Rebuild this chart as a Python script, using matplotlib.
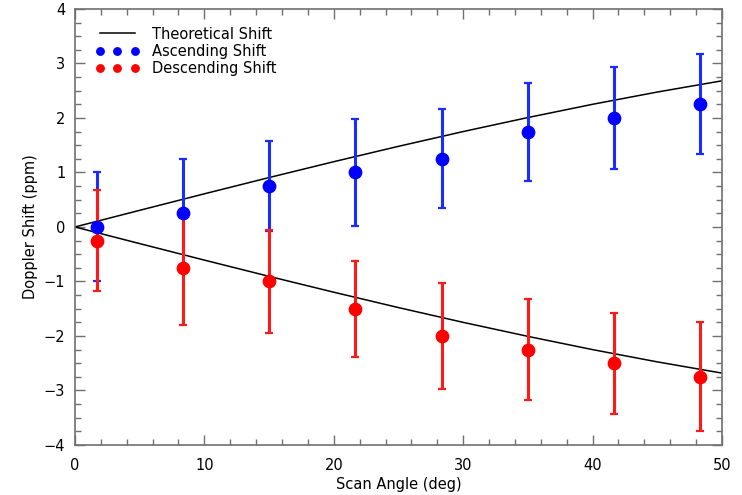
import matplotlib
matplotlib.use('Agg')
import matplotlib.pyplot as plt
from matplotlib.ticker import MultipleLocator

# scan angles of the measurements (deg)
scan_angle = [1.67, 8.33, 15.0, 21.67, 28.33, 35.0, 41.67, 48.33]

# ascending pass shift and error (ppm)
asc_shift = [0.0, 0.25, 0.75, 1.0, 1.25, 1.75, 2.0, 2.25]
asc_err = [1.0, 1.0, 0.83, 0.98, 0.91, 0.90, 0.94, 0.92]

# descending pass shift and error (ppm)
desc_shift = [-0.25, -0.75, -1.0, -1.5, -2.0, -2.25, -2.5, -2.75]
desc_err = [0.92, 1.04, 0.94, 0.88, 0.97, 0.92, 0.93, 1.0]

# theoretical curve
theo_angle = [0, 5, 10, 15, 20, 25, 30, 35, 40, 45, 50]
theo_shift = [0.0, 0.305, 0.608, 0.906, 1.197, 1.479, 1.75, 2.007, 2.25, 2.475, 2.681]

fig = plt.figure(figsize=(7.42, 4.95), dpi=100)
ax = fig.add_axes([0.101, 0.101, 0.872, 0.881])

ax.plot(theo_angle, theo_shift, color='black', lw=1.1, label='Theoretical Shift')
ax.plot(theo_angle, [-v for v in theo_shift], color='black', lw=1.1)

ax.errorbar(scan_angle, asc_shift, yerr=asc_err, fmt='o', color='#0000ff',
            ecolor='#1a2cff', ms=8.9, elinewidth=2.2, capsize=3, capthick=1.6,
            label='Ascending Shift')
ax.errorbar(scan_angle, desc_shift, yerr=desc_err, fmt='o', color='#ff0000',
            ecolor='#ff1a1a', ms=8.9, elinewidth=2.2, capsize=3, capthick=1.6,
            label='Descending Shift')

ax.set_xlim(0, 50)
ax.set_ylim(-4, 4)
ax.xaxis.set_major_locator(MultipleLocator(10))
ax.xaxis.set_minor_locator(MultipleLocator(2))
ax.yaxis.set_major_locator(MultipleLocator(1))
ax.yaxis.set_minor_locator(MultipleLocator(0.25))

ax.tick_params(which='both', direction='in', top=True, right=True, color='#707070',
               labelsize=10.5, width=1)
ax.tick_params(which='major', length=7)
ax.tick_params(which='minor', length=4)
ax.tick_params(axis='x', pad=9)
ax.tick_params(axis='y', pad=7)
for sp in ax.spines.values():
    sp.set_color('#707070')
    sp.set_linewidth(1.2)

ax.set_xlabel('Scan Angle (deg)', fontsize=10.5, labelpad=3)
ax.set_ylabel('Doppler Shift (ppm)', fontsize=10.5, labelpad=4)

# legend: remove error bars from the handles, show three dots
handles, labels = ax.get_legend_handles_labels()
new_handles = []
for h in handles:
    if hasattr(h, 'lines'):
        new_handles.append(h.lines[0])
    else:
        new_handles.append(h)
leg = ax.legend(new_handles, labels, loc='upper left', frameon=False, numpoints=3,
                fontsize=10.5, handlelength=3.0, handletextpad=0.9, labelspacing=0.15,
                bbox_to_anchor=(0.016, 0.983), borderaxespad=0.3, markerscale=0.6)

fig.savefig('out.png', dpi=100)
